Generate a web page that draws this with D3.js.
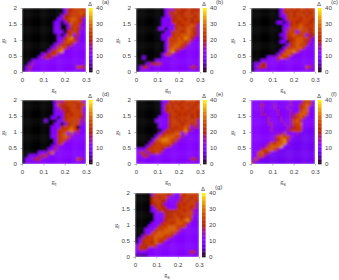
<!DOCTYPE html>
<html>
<head>
<meta charset="utf-8">
<script src="https://cdn.jsdelivr.net/npm/d3@7"></script>
<style>
html, body { margin: 0; padding: 0; background: #fff; }
text { font-family: "Liberation Sans", sans-serif; fill: #444; }
</style>
</head>
<body>
<svg id="fig" width="339" height="280"></svg>
<script>
// tick labels
var xTicks = [0, 0.1, 0.2, 0.3];
var yTicks = [0, 0.5, 1, 1.5, 2];
var yTickLabels = ["0", "0.5", "1", "1.5", "2"];
var cbTicks = [0, 10, 20, 30, 40];

// delta value of each char used in the grids below
var levels = [0, 4, 8, 10.5, 15, 20, 24, 28, 32, 36];

// one char per cell, top row is g_l = 2, left column is g = 0
var panelA = [
"00000000000003556666",
"00000000000003566676",
"00000000000035566665",
"00000000000335677653",
"00000000003303576653",
"00000000003300366643",
"00000000003300456543",
"00000000003330566533",
"00000000000303663533",
"00000000000335785433",
"00000000000346766433",
"00000000003456553333",
"00000000034676433333",
"00000000356783333333",
"00000034566433333333",
"00000345543333333333",
"00033333333333333333",
"00343333333333333333",
"03533333333333333665",
"03433333333333333333"];
var panelB = [
"00000000034456556555",
"00000000035565566566",
"00000000034556566656",
"00000000333556656566",
"00000000333565666565",
"00000000333356566764",
"00000003303356667654",
"00000000033566567654",
"00000000333566777654",
"00000000336667687543",
"00000000036667766433",
"00000000036677654333",
"00000000036776543333",
"00000000037854333333",
"00000000366433333333",
"00300000333333333333",
"00000033333333333333",
"00034555333333333333",
"03553333333333333553",
"03333333333333333333"];
var panelC = [
"00000000035656566566",
"00000000035565665656",
"00000000033565666566",
"00000000003566656665",
"00000000330356566656",
"00000000003356676566",
"00000000003466676656",
"00000000003566366656",
"00000000033567666355",
"00000000003556776653",
"00000000033056776543",
"00000000000356766533",
"00000000003566775333",
"00000000035778643333",
"00000000357764333333",
"00000333576533333333",
"00033333433333333333",
"03355333333333333333",
"03555333333333333653",
"03333333333333333333"];
var panelD = [
"00000000003546665663",
"00000000003655666566",
"00000000003455566563",
"00000000003345566663",
"00000000003335656664",
"00000000033035666654",
"00000003000335666644",
"00000000003303566643",
"00000000033356676033",
"00000000033566786533",
"00000000033567363433",
"00000000033567643333",
"00000000003566433333",
"00000000003563333333",
"00000000034433333333",
"00000000335333333333",
"00000333573333333333",
"00333455333333333333",
"03345533333333333653",
"03333333333333333333"];
var panelE = [
"00000000335656566665",
"00000000356565665656",
"00000000356566566566",
"00000000356656665665",
"00000000335665656565",
"00000003335656666565",
"00000033335665656664",
"00000003335666566564",
"00000003335656676354",
"00000000356566685433",
"00000003566677363333",
"00000036677766433333",
"00000367887664333333",
"00003566777543333333",
"00035666665333333333",
"33356666533333333333",
"35535565333333333333",
"33553333333333333333",
"33333333333333333553",
"33333333333333333333"];
var panelF = [
"33333333333343335663",
"33353334333343356763",
"33343334333433356733",
"33343333433343367733",
"33344333433344677633",
"33333433343345675333",
"33333433343346753333",
"33333443334346673333",
"33333343333445663333",
"33333343333456662222",
"33333333446333422222",
"33333334676643222222",
"33333334578532222222",
"33333465778422222222",
"33334677783222222222",
"33356776422222222222",
"33675532222222222222",
"33664222222222222222",
"36422222222222222222",
"52222222222222222222"];
var panelG = [
"00000456665533656666",
"00000565664333566566",
"00000566553334565665",
"00000556533335656664",
"00000356553335666564",
"00000335655556656643",
"00000033355565666643",
"00000033355566566633",
"00000033356667678533",
"00000333566567765333",
"00003335667776663333",
"00033356677776433333",
"00033667777664333333",
"00356677766533333333",
"03566676664333333333",
"03566576533333333333",
"35556653333333333333",
"35553333333333333333",
"33333333333333333553",
"11113333333333333333"];

var panels = [
  { grid: panelA, tag: "(a)", xLab: "τ", x0: 22, y0: 8 },
  { grid: panelB, tag: "(b)", xLab: "n", x0: 136, y0: 8 },
  { grid: panelC, tag: "(c)", xLab: "s", x0: 251, y0: 8 },
  { grid: panelD, tag: "(d)", xLab: "τ", x0: 22, y0: 100 },
  { grid: panelE, tag: "(e)", xLab: "n", x0: 136, y0: 100 },
  { grid: panelF, tag: "(f)", xLab: "s", x0: 251, y0: 100 },
  { grid: panelG, tag: "(g)", xLab: "s", x0: 135, y0: 193 }
];

var size = 64;
var svg = d3.select("#fig");

// gnuplot default palette (rgbformulae 7,5,15)
function pm3d(t) {
  var r = Math.sqrt(t);
  var g = t * t * t;
  var b = Math.max(0, Math.sin(2 * Math.PI * t));
  return d3.rgb(r * 255, g * 255, b * 255);
}
var color = d3.scaleSequential(pm3d).domain([0, 40]);

// the original is a smeared pm3d map, a little blur gets close
var defs = svg.append("defs");
defs.append("filter").attr("id", "soft")
  .attr("x", "-5%").attr("y", "-5%").attr("width", "110%").attr("height", "110%")
  .append("feGaussianBlur").attr("stdDeviation", 0.9);

function styleAxis(g) {
  g.select(".domain").remove();
  g.selectAll("line").attr("stroke", "#666").attr("stroke-width", 0.5);
  g.selectAll("text").attr("font-size", 6.2).style("font-family", "'Liberation Sans', sans-serif");
}

panels.forEach(function (p, i) {
  var x = d3.scaleLinear().domain([0, 0.3]).range([p.x0, p.x0 + size]);
  var y = d3.scaleLinear().domain([0, 2]).range([p.y0 + size, p.y0]);
  var cb = d3.scaleLinear().domain([0, 40]).range([p.y0 + size, p.y0]);
  var nx = 20, ny = 20;

  var cells = [];
  p.grid.forEach(function (row, r) {
    row.split("").forEach(function (c, k) {
      cells.push({ i: k, j: r, v: levels[+c] });
    });
  });

  defs.append("clipPath").attr("id", "clip" + i)
    .append("rect")
    .attr("x", p.x0).attr("y", p.y0).attr("width", size).attr("height", size);

  svg.append("g").attr("clip-path", "url(#clip" + i + ")")
    .append("g").attr("filter", "url(#soft)")
    .selectAll("rect")
    .data(cells)
    .enter()
    .append("rect")
    .attr("x", d => x(d.i * 0.3 / nx))
    .attr("y", d => y(2 - d.j * 2 / ny))
    .attr("width", size / nx + 0.3)
    .attr("height", size / ny + 0.3)
    .attr("fill", d => color(d.v));

  // axes
  var xAxis = d3.axisBottom(x).tickValues(xTicks).tickFormat(d3.format("")).tickSize(1.5).tickPadding(4.5);
  var yAxis = d3.axisLeft(y).tickValues(yTicks).tickFormat((d, k) => yTickLabels[k]).tickSize(1.5).tickPadding(3.5);
  svg.append("g").attr("transform", "translate(0," + (p.y0 + size) + ")").call(xAxis).call(styleAxis);
  svg.append("g").attr("transform", "translate(" + p.x0 + ",0)").call(yAxis).call(styleAxis);

  // colour bar
  var cx = p.x0 + size + 3;
  var steps = d3.range(0, 40, 0.5);
  svg.append("g").selectAll("rect")
    .data(steps)
    .enter()
    .append("rect")
    .attr("x", cx)
    .attr("y", d => cb(d + 0.5))
    .attr("width", 3.5)
    .attr("height", size / 80 + 0.3)
    .attr("fill", d => color(d));
  var cbAxis = d3.axisRight(cb).tickValues(cbTicks).tickSize(0).tickPadding(7);
  svg.append("g").attr("transform", "translate(" + cx + ",0)").call(cbAxis).call(styleAxis);

  // labels
  svg.append("text").attr("x", cx + 1).attr("y", p.y0 - 2).attr("text-anchor", "middle").attr("font-size", 6).text("Δ");
  svg.append("text").attr("x", cx + 13).attr("y", p.y0 - 4).attr("font-size", 6).text(p.tag);

  var xl = svg.append("text").attr("x", p.x0 + size / 2).attr("y", p.y0 + size + 20).attr("text-anchor", "middle").attr("font-size", 6.5);
  xl.append("tspan").style("font-family", "'Liberation Serif', serif").text("g");
  xl.append("tspan").attr("font-size", 4.5).attr("dy", 1.5).text(p.xLab);

  var yl = svg.append("text").attr("x", p.x0 - 18).attr("y", p.y0 + size / 2 + 2).attr("text-anchor", "middle").attr("font-size", 6.5);
  yl.append("tspan").style("font-family", "'Liberation Serif', serif").text("g");
  yl.append("tspan").attr("font-size", 4.5).attr("dy", 1.5).text("l");
});
</script>
</body>
</html>
